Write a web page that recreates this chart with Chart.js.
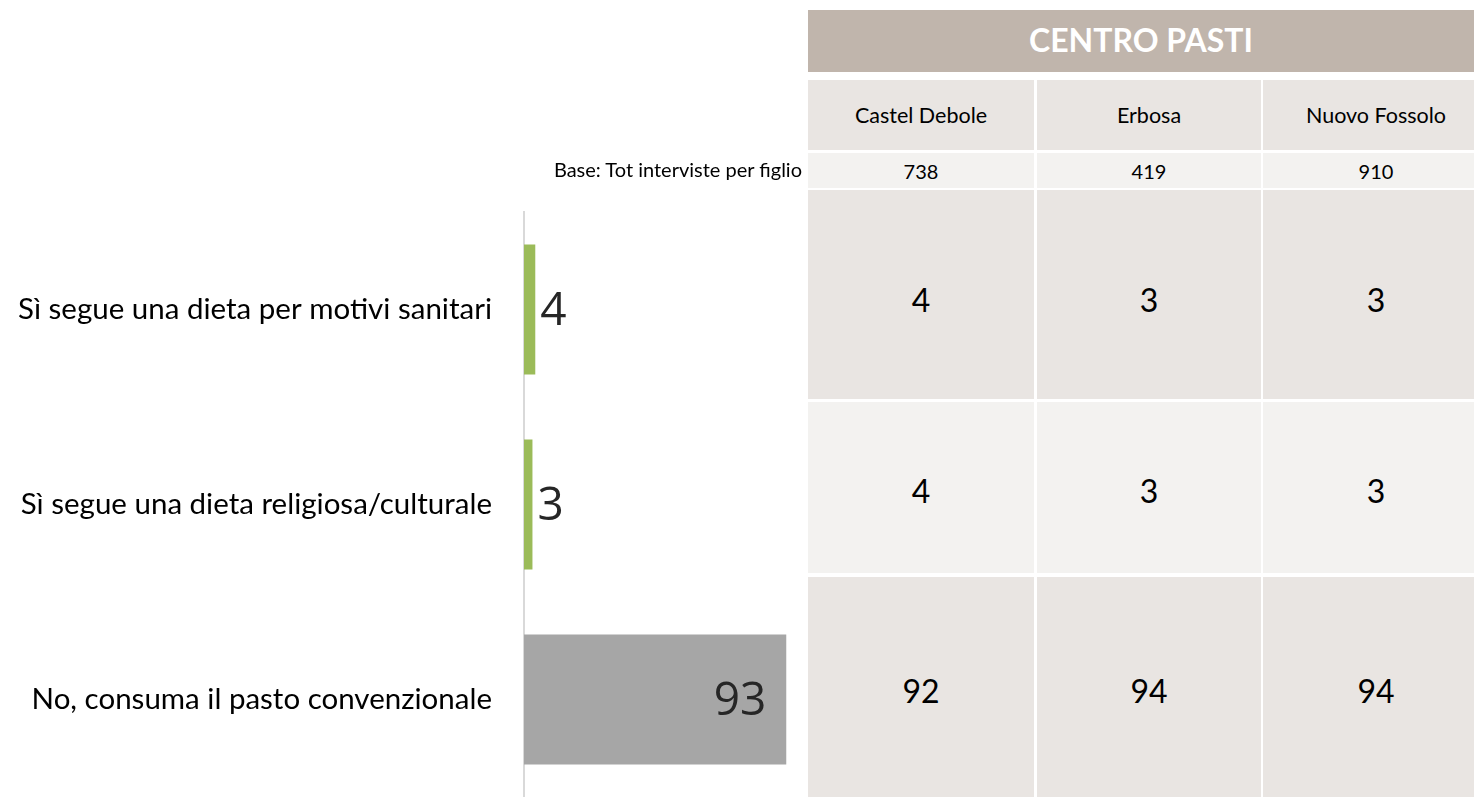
<!DOCTYPE html>
<html>
<head>
<meta charset="utf-8">
<script src="https://cdn.jsdelivr.net/npm/chart.js@4.4.1/dist/chart.umd.min.js"></script>
<style>
  html, body { margin: 0; padding: 0; background: #fff; width: 1474px; height: 797px; overflow: hidden; }
  #c { position: absolute; left: 0; top: 0; }
  .cell { position: absolute; display: flex; align-items: center; justify-content: center; font-family: Lato, "Open Sans", sans-serif; color: #000; box-sizing: border-box; }
  #base { position: absolute; font-family: Lato, sans-serif; font-size: 20px; color: #000; right: 672px; top: 157px; white-space: nowrap; }
</style>
</head>
<body>
<canvas id="c" width="808" height="797"></canvas>
<div id="table"></div>
<div id="base"></div>
<script>
// ---- data ----
const categories = [
  "Sì segue una dieta per motivi sanitari",
  "Sì segue una dieta religiosa/culturale",
  "No, consuma il pasto convenzionale"
];
const totalValues = [4, 3, 93];
const tableTitle = "CENTRO PASTI";
const columns = ["Castel Debole", "Erbosa", "Nuovo Fossolo"];
const baseLabel = "Base: Tot interviste per figlio";
const bases = [738, 419, 910];
const castelDebole = [4, 4, 92];
const erbosa = [3, 3, 94];
const nuovoFossolo = [3, 3, 94];
const tableValues = [castelDebole, erbosa, nuovoFossolo];

// ---- table (HTML) ----
const colX = [808, 1037, 1263];
const colW = [226, 224, 226];
const rowY = [190, 402, 577];
const rowH = [209, 171, 220];
const tbl = document.getElementById('table');
function addCell(x, y, w, h, bg, text, css) {
  const d = document.createElement('div');
  d.className = 'cell';
  d.style.left = x + 'px'; d.style.top = y + 'px';
  d.style.width = w + 'px'; d.style.height = h + 'px';
  d.style.background = bg;
  if (css) Object.assign(d.style, css);
  d.textContent = text;
  tbl.appendChild(d);
}
addCell(808, 10, 666, 62, '#C0B5AC', tableTitle, {color: '#fff', fontWeight: '700', fontSize: '32px', paddingBottom: '4px'});
columns.forEach((c, i) => {
  addCell(colX[i], 80, colW[i], 70, '#E9E5E2', c, {fontSize: '21.5px'});
  addCell(colX[i], 153, colW[i], 35, '#F3F2F0', String(bases[i]), {fontSize: '20px'});
  for (let r = 0; r < categories.length; r++) {
    addCell(colX[i], rowY[r], colW[i], rowH[r], r % 2 === 0 ? '#E9E5E2' : '#F3F2F0',
      String(tableValues[i][r]), {fontSize: '32px', paddingTop: (r === 0 ? 10 : 6) + 'px'});
  }
});
document.getElementById('base').textContent = baseLabel;

// ---- chart ----
const labelPlugin = {
  id: 'valueLabels',
  afterDatasetsDraw(chart) {
    const ctx = chart.ctx;
    const meta = chart.getDatasetMeta(0);
    ctx.save();
    ctx.font = '46px "Open Sans"';
    ctx.fillStyle = '#262626';
    ctx.textBaseline = 'middle';
    meta.data.forEach((bar, i) => {
      const v = chart.data.datasets[0].data[i];
      if (v > 50) {
        ctx.textAlign = 'right';
        ctx.fillText(String(v), bar.x - 20, bar.y + 2);
      } else {
        ctx.textAlign = 'left';
        ctx.fillText(String(v), bar.x + 5, bar.y + 2);
      }
    });
    ctx.restore();
  }
};

new Chart(document.getElementById('c'), {
  type: 'bar',
  data: {
    labels: categories,
    datasets: [{
      data: totalValues,
      backgroundColor: totalValues.map((v, i) => i === totalValues.length - 1 ? '#A6A6A6' : '#9BBB59'),
      borderWidth: 0,
      categoryPercentage: 1,
      barPercentage: 0.667
    }]
  },
  options: {
    indexAxis: 'y',
    responsive: false,
    animation: false,
    layout: { padding: { top: 212, right: 2, bottom: 0, left: 0 } },
    plugins: { legend: { display: false }, tooltip: { enabled: false } },
    scales: {
      x: { display: false, min: 0, max: 100 },
      y: {
        grid: { display: false },
        border: { display: true, color: '#D9D9D9', width: 2 },
        ticks: { font: { family: 'Lato', size: 29.5 }, color: '#000', padding: 24 },
        afterFit(scale) { scale.width = 524; scale.paddingTop = 0; scale.paddingBottom = 0; }
      }
    }
  },
  plugins: [labelPlugin]
});
</script>
</body>
</html>
